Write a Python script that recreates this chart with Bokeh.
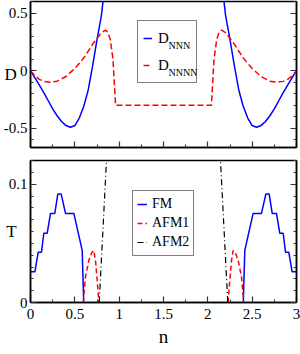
from bokeh.plotting import figure
from bokeh.layouts import column
from bokeh.models import (Range1d, FixedTicker, LinearAxis, Legend, LegendItem,
                          CustomJSTickFormatter)
from bokeh.core.properties import value
from bokeh.embed import file_html
from bokeh.resources import INLINE

FONT = "Liberation Serif"

# ---------------- data: top panel (D) ----------------
n_nnn_a = [0.0, 0.05, 0.10, 0.15, 0.20, 0.25, 0.30, 0.35, 0.40, 0.45, 0.50, 0.55, 0.60, 0.65, 0.70, 0.75, 0.80, 0.84]
d_nnn_a = [0.0, -0.062, -0.125, -0.19, -0.26, -0.33, -0.39, -0.44, -0.475, -0.49, -0.475, -0.41, -0.31, -0.17, 0.04, 0.27, 0.48, 0.75]
n_nnn_b = [2.16, 2.20, 2.25, 2.30, 2.35, 2.40, 2.45, 2.50, 2.55, 2.60, 2.65, 2.70, 2.75, 2.80, 2.85, 2.90, 2.95, 3.0]
d_nnn_b = [0.75, 0.48, 0.27, 0.04, -0.17, -0.31, -0.41, -0.475, -0.49, -0.475, -0.44, -0.39, -0.33, -0.26, -0.19, -0.125, -0.062, 0.0]

n_nnnn = [0.0, 0.05, 0.10, 0.15, 0.22, 0.30, 0.40, 0.50, 0.60, 0.66, 0.70, 0.75, 0.80, 0.846, 0.875, 0.90, 0.93, 0.96,
          2.04, 2.07, 2.10, 2.125, 2.154, 2.20, 2.25, 2.30, 2.34, 2.40, 2.50, 2.60, 2.70, 2.78, 2.85, 2.90, 2.95, 3.0]
d_nnnn = [0.0, -0.045, -0.075, -0.092, -0.10, -0.09, -0.05, 0.02, 0.11, 0.18, 0.23, 0.28, 0.33, 0.352, 0.33, 0.27, 0.10, -0.30,
          -0.30, 0.10, 0.27, 0.33, 0.352, 0.33, 0.28, 0.23, 0.18, 0.11, 0.02, -0.05, -0.09, -0.10, -0.092, -0.075, -0.045, 0.0]

# ---------------- data: bottom panel (T) ----------------
n_fm_a = [0.0, 0.05, 0.087, 0.124, 0.15, 0.188, 0.226, 0.274, 0.308, 0.346, 0.395, 0.489, 0.583, 0.60]
t_fm_a = [0.026, 0.026, 0.0425, 0.0425, 0.0585, 0.0585, 0.0753, 0.0753, 0.0916, 0.0916, 0.0753, 0.0753, 0.044, 0.0]
n_fm_b = [2.40, 2.417, 2.511, 2.605, 2.654, 2.692, 2.726, 2.774, 2.812, 2.85, 2.876, 2.913, 2.95, 3.0]
t_fm_b = [0.0, 0.044, 0.0753, 0.0753, 0.0916, 0.0916, 0.0753, 0.0753, 0.0585, 0.0585, 0.0425, 0.0425, 0.026, 0.026]

n_afm1_a = [0.595, 0.62, 0.658, 0.69, 0.714, 0.733, 0.752, 0.772]
t_afm1_a = [0.0, 0.0215, 0.0356, 0.042, 0.044, 0.0356, 0.0187, 0.0]
n_afm1_b = [2.228, 2.248, 2.267, 2.286, 2.31, 2.342, 2.38, 2.405]
t_afm1_b = [0.0, 0.0187, 0.0356, 0.044, 0.042, 0.0356, 0.0215, 0.0]

n_afm2_a = [0.775, 0.857, 0.89]
t_afm2_a = [0.0, 0.12, 0.17]
n_afm2_b = [2.11, 2.143, 2.225]
t_afm2_b = [0.17, 0.12, 0.0]

# ---------------- ticks ----------------
x_major = [0, 0.5, 1, 1.5, 2, 2.5, 3]
x_minor = [0.25, 0.75, 1.25, 1.75, 2.25, 2.75]
d_major = [-0.5, 0, 0.5]
d_minor = [-0.6, -0.4, -0.3, -0.2, -0.1, 0.1, 0.2, 0.3, 0.4, 0.6]
t_major = [0, 0.1]
t_minor = [0.01, 0.02, 0.03, 0.04, 0.05, 0.06, 0.07, 0.08, 0.09, 0.11, 0.12]

# legend texts
leg_top_labels = ["D", "D"]
leg_top_subs = ["NNN", "NNNN"]
leg_bot_labels = ["FM", "AFM1", "AFM2"]

fmt = CustomJSTickFormatter(code="return tick.toString();")

X0, X1 = 0.0, 3.0
D0, D1 = -0.665, 0.6
T0, T1 = 0.0, 0.12
FRAME_W = 266
FRAME_H1 = 146


def style_axis(ax, show_labels):
    ax.major_tick_in = 6
    ax.major_tick_out = 0
    ax.minor_tick_in = 3
    ax.minor_tick_out = 0
    ax.axis_line_width = 1.5
    ax.axis_line_color = "black"
    ax.major_tick_line_width = 1.2
    ax.minor_tick_line_width = 1.0
    ax.major_tick_line_color = "#333333"
    ax.minor_tick_line_color = "#333333"
    if show_labels:
        ax.major_label_text_font = FONT
        ax.major_label_text_font_size = "15px"
        ax.major_label_text_color = "black"
        ax.formatter = fmt
    else:
        ax.major_label_text_color = None
        ax.major_label_text_font_size = "1px"
        ax.major_label_standoff = 0


def make_fig(height, yr, btop, bbot):
    p = figure(width=300, height=height, x_range=Range1d(X0, X1), y_range=yr,
               output_backend="svg", toolbar_location=None,
               min_border_left=30, min_border_right=4,
               min_border_top=btop, min_border_bottom=bbot)
    p.grid.visible = False
    p.outline_line_color = "black"
    p.outline_line_width = 1.5
    p.background_fill_color = "white"
    p.border_fill_color = "white"
    return p


def y_label(ax, text, standoff):
    ax.axis_label = text
    ax.axis_label_orientation = "horizontal"
    ax.axis_label_text_font = FONT
    ax.axis_label_text_font_size = "17px"
    ax.axis_label_text_font_style = "normal"
    ax.axis_label_text_color = "black"
    ax.axis_label_standoff = standoff


# ================= top panel =================
p1 = make_fig(154, Range1d(D0, D1), 1, 7)
p1.xaxis.ticker = FixedTicker(ticks=x_major, minor_ticks=x_minor)
p1.yaxis.ticker = FixedTicker(ticks=d_major, minor_ticks=d_minor)
style_axis(p1.xaxis[0], False)
style_axis(p1.yaxis[0], True)
p1.yaxis.major_label_standoff = 3
y_label(p1.yaxis[0], "D", -16)
r1 = LinearAxis(ticker=FixedTicker(ticks=d_major, minor_ticks=d_minor))
style_axis(r1, False)
p1.add_layout(r1, "right")

rb1 = p1.line(n_nnn_a, d_nnn_a, line_color="#0000ff", line_width=1.5)
p1.line(n_nnn_b, d_nnn_b, line_color="#0000ff", line_width=1.5)
rr1 = p1.line(n_nnnn, d_nnnn, line_color="#ff0000", line_width=1.5, line_dash="6 3")

leg1 = Legend(items=[LegendItem(label=leg_top_labels[0], renderers=[rb1]),
                     LegendItem(label=leg_top_labels[1], renderers=[rr1])],
              location=(107, 64), margin=0, padding=5, spacing=3,
              glyph_width=9, glyph_height=24, label_height=24, label_width=33,
              label_standoff=6, label_text_font=FONT, label_text_font_size="15px",
              label_text_color="black",
              border_line_color="black", border_line_width=1.5,
              background_fill_color="white", background_fill_alpha=0.0)
p1.add_layout(leg1)

# subscripts of the legend labels (screen offsets from the frame's lower-left corner)
sub_sx = [138, 138]
sub_sy = [102, 75]
sub_x = [X0 + s * (X1 - X0) / FRAME_W for s in sub_sx]
sub_y = [D0 + s * (D1 - D0) / FRAME_H1 for s in sub_sy]
p1.text(x=sub_x, y=sub_y, text=leg_top_subs, text_font=value(FONT),
        text_font_size="10px", text_baseline="middle", text_align="left",
        text_color="black")

# ================= bottom panel =================
p2 = make_fig(200, Range1d(T0, T1), 6, 52)
p2.xaxis.ticker = FixedTicker(ticks=x_major, minor_ticks=x_minor)
p2.yaxis.ticker = FixedTicker(ticks=t_major, minor_ticks=t_minor)
style_axis(p2.xaxis[0], True)
style_axis(p2.yaxis[0], True)
p2.yaxis.major_label_standoff = 3
y_label(p2.yaxis[0], "T", -11)
p2.xaxis.major_label_standoff = 6
p2.xaxis.axis_label = "n"
p2.xaxis.axis_label_text_font = FONT
p2.xaxis.axis_label_text_font_size = "19px"
p2.xaxis.axis_label_text_font_style = "normal"
p2.xaxis.axis_label_text_color = "black"
p2.xaxis.axis_label_standoff = 4
r2 = LinearAxis(ticker=FixedTicker(ticks=t_major, minor_ticks=t_minor))
style_axis(r2, False)
p2.add_layout(r2, "right")

rfm = p2.line(n_fm_a, t_fm_a, line_color="#0000ff", line_width=1.5)
p2.line(n_fm_b, t_fm_b, line_color="#0000ff", line_width=1.5)
ra1 = p2.line(n_afm1_a, t_afm1_a, line_color="#ff0000", line_width=1.5, line_dash="5 3")
p2.line(n_afm1_b, t_afm1_b, line_color="#ff0000", line_width=1.5, line_dash="5 3")
ra2 = p2.line(n_afm2_a, t_afm2_a, line_color="black", line_width=1.2, line_dash="6 3 1 3")
p2.line(n_afm2_b, t_afm2_b, line_color="black", line_width=1.2, line_dash="6 3 1 3")

leg2 = Legend(items=[LegendItem(label=leg_bot_labels[0], renderers=[rfm]),
                     LegendItem(label=leg_bot_labels[1], renderers=[ra1]),
                     LegendItem(label=leg_bot_labels[2], renderers=[ra2])],
              location=(102, 46), margin=0, padding=4, spacing=1,
              glyph_width=10, glyph_height=18, label_height=18,
              label_standoff=5, label_text_font=FONT, label_text_font_size="14px",
              label_text_color="black",
              border_line_color="black", border_line_width=1.5,
              background_fill_color="white", background_fill_alpha=1.0)
p2.add_layout(leg2)

layout = column(p1, p2, spacing=0)

with open("out.html", "w") as f:
    f.write(file_html(layout, INLINE))
